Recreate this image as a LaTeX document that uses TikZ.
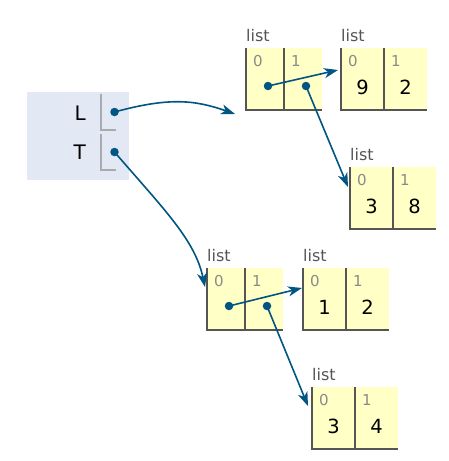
\documentclass[tikz,border=0pt]{standalone}
\usepackage{fontspec}
\setmainfont{DejaVu Sans}
\usetikzlibrary{arrows.meta,positioning,calc}

\definecolor{framebg}{HTML}{E2E9F5}
\definecolor{heapbg}{HTML}{FFFFC6}
\definecolor{heapline}{HTML}{555555}
\definecolor{slotline}{HTML}{AAAAAA}
\definecolor{ptrblue}{HTML}{005583}
\definecolor{idxgray}{HTML}{8A8A8A}

\tikzset{
  framebox/.style={rectangle, fill=framebg, anchor=north west, minimum width=102pt, minimum height=88pt, inner sep=0pt},
  slot/.style={rectangle, anchor=north west, minimum width=15pt, minimum height=36pt, inner sep=0pt, outer sep=0pt},
  ptrcell/.style={rectangle, fill=heapbg, minimum width=38pt, minimum height=62pt, inner sep=0pt, outer sep=0pt},
  valcell/.style={ptrcell, minimum width=43pt},
  typelbl/.style={anchor=south west, inner sep=0pt, text=heapline, font=\fontsize{16}{16}\selectfont},
  idx/.style={anchor=north west, inner sep=0pt, text=idxgray, font=\fontsize{15}{15}\selectfont},
  val/.style={inner sep=0pt, font=\fontsize{19.5}{19.5}\selectfont},
  varname/.style={anchor=east, inner sep=0pt, font=\fontsize{20}{20}\selectfont},
  ptrdot/.style={circle, fill=ptrblue, minimum size=8.5pt, inner sep=0pt},
  ptr/.style={draw=ptrblue, line width=1.6pt, -{Stealth[length=14pt,width=10pt,inset=4pt]}},
  cellborder/.style={draw=heapline, line width=1.2pt},
  slotborder/.style={draw=slotline, line width=1.1pt},
}

\begin{document}
\begin{tikzpicture}[x=1pt, y=-1pt]
  \useasboundingbox (0,0) rectangle (448,461);

  % global frame
  \node[framebox] (globals) at (27,92) {};
  \node[slot] (lslot) at (101,94) {};
  \node[slot] (tslot) at (101,134) {};
  \draw[slotborder] (lslot.north west) -- (lslot.south west) -- (lslot.south east);
  \draw[slotborder] (tslot.north west) -- (tslot.south west) -- (tslot.south east);
  \node[varname] (lname) at (86,113) {L};
  \node[varname] (tname) at (86,152) {T};
  \node[ptrdot] (lptr) at ([xshift=6pt]lslot.center) {};
  \node[ptrdot] (tptr) at ([xshift=6pt]tslot.center) {};

  % list A (pointers)
  \node[ptrcell, anchor=north west] (a0) at (246,48) {};
  \node[ptrcell, right=0pt of a0] (a1) {};
  \draw[cellborder] (a0.north west) -- (a0.south west) -- (a1.south east);
  \draw[cellborder] (a1.north west) -- (a1.south west);
  \node[typelbl] (alist) at ([yshift=6pt]a0.north west) {list};
  \node[idx] at ([xshift=7pt,yshift=-7pt]a0.north west) {0};
  \node[idx] at ([xshift=7pt,yshift=-7pt]a1.north west) {1};
  \node[ptrdot] (a0ptr) at ([xshift=3pt,yshift=-7pt]a0.center) {};
  \node[ptrdot] (a1ptr) at ([xshift=3pt,yshift=-7pt]a1.center) {};

  % list B: 9 2
  \node[valcell, anchor=north west] (b0) at (341,48) {};
  \node[valcell, right=0pt of b0] (b1) {};
  \draw[cellborder] (b0.north west) -- (b0.south west) -- (b1.south east);
  \draw[cellborder] (b1.north west) -- (b1.south west);
  \node[typelbl] (blist) at ([yshift=6pt]b0.north west) {list};
  \node[idx] at ([xshift=7pt,yshift=-7pt]b0.north west) {0};
  \node[idx] at ([xshift=7pt,yshift=-7pt]b1.north west) {1};
  \node[val] (b0val) at ([yshift=-8pt]b0.center) {9};
  \node[val] (b1val) at ([yshift=-8pt]b1.center) {2};

  % list C: 3 8
  \node[valcell, anchor=north west] (c0) at (350,167) {};
  \node[valcell, right=0pt of c0] (c1) {};
  \draw[cellborder] (c0.north west) -- (c0.south west) -- (c1.south east);
  \draw[cellborder] (c1.north west) -- (c1.south west);
  \node[typelbl] (clist) at ([yshift=6pt]c0.north west) {list};
  \node[idx] at ([xshift=7pt,yshift=-7pt]c0.north west) {0};
  \node[idx] at ([xshift=7pt,yshift=-7pt]c1.north west) {1};
  \node[val] (c0val) at ([yshift=-8pt]c0.center) {3};
  \node[val] (c1val) at ([yshift=-8pt]c1.center) {8};

  % list D (pointers)
  \node[ptrcell, anchor=north west] (d0) at (207,268) {};
  \node[ptrcell, right=0pt of d0] (d1) {};
  \draw[cellborder] (d0.north west) -- (d0.south west) -- (d1.south east);
  \draw[cellborder] (d1.north west) -- (d1.south west);
  \node[typelbl] (dlist) at ([yshift=6pt]d0.north west) {list};
  \node[idx] at ([xshift=7pt,yshift=-7pt]d0.north west) {0};
  \node[idx] at ([xshift=7pt,yshift=-7pt]d1.north west) {1};
  \node[ptrdot] (d0ptr) at ([xshift=3pt,yshift=-7pt]d0.center) {};
  \node[ptrdot] (d1ptr) at ([xshift=3pt,yshift=-7pt]d1.center) {};

  % list E: 1 2
  \node[valcell, anchor=north west] (e0) at (303,268) {};
  \node[valcell, right=0pt of e0] (e1) {};
  \draw[cellborder] (e0.north west) -- (e0.south west) -- (e1.south east);
  \draw[cellborder] (e1.north west) -- (e1.south west);
  \node[typelbl] (elist) at ([yshift=6pt]e0.north west) {list};
  \node[idx] at ([xshift=7pt,yshift=-7pt]e0.north west) {0};
  \node[idx] at ([xshift=7pt,yshift=-7pt]e1.north west) {1};
  \node[val] (e0val) at ([yshift=-8pt]e0.center) {1};
  \node[val] (e1val) at ([yshift=-8pt]e1.center) {2};

  % list F: 3 4
  \node[valcell, anchor=north west] (f0) at (312,387) {};
  \node[valcell, right=0pt of f0] (f1) {};
  \draw[cellborder] (f0.north west) -- (f0.south west) -- (f1.south east);
  \draw[cellborder] (f1.north west) -- (f1.south west);
  \node[typelbl] (flist) at ([yshift=6pt]f0.north west) {list};
  \node[idx] at ([xshift=7pt,yshift=-7pt]f0.north west) {0};
  \node[idx] at ([xshift=7pt,yshift=-7pt]f1.north west) {1};
  \node[val] (f0val) at ([yshift=-8pt]f0.center) {3};
  \node[val] (f1val) at ([yshift=-8pt]f1.center) {4};

  % arrow ends
  \coordinate (lend) at ($(a0.south west)+(-11,4)$);
  \coordinate (tend) at ($(d0.north west)+(-2,19)$);
  \coordinate (bend) at ($(b0.north west)+(-3,22)$);
  \coordinate (cend) at ($(c0.north west)+(-2,20)$);
  \coordinate (eend) at ($(e0.north west)+(-1,20)$);
  \coordinate (fend) at ($(f0.north west)+(-4,19)$);

  % pointers
  \draw[ptr] (lptr.center) .. controls ($(lptr)+(55,-15)$) and ($(lend)+(-40,-14)$) .. (lend);
  \draw[ptr] (tptr.center) .. controls ($(tptr)+(50,58)$) and ($(tend)+(-10,-47)$) .. (tend);
  \draw[ptr] (a0ptr.center) -- (bend);
  \draw[ptr] (a1ptr.center) -- (cend);
  \draw[ptr] (d0ptr.center) -- (eend);
  \draw[ptr] (d1ptr.center) -- (fend);
\end{tikzpicture}
\end{document}
